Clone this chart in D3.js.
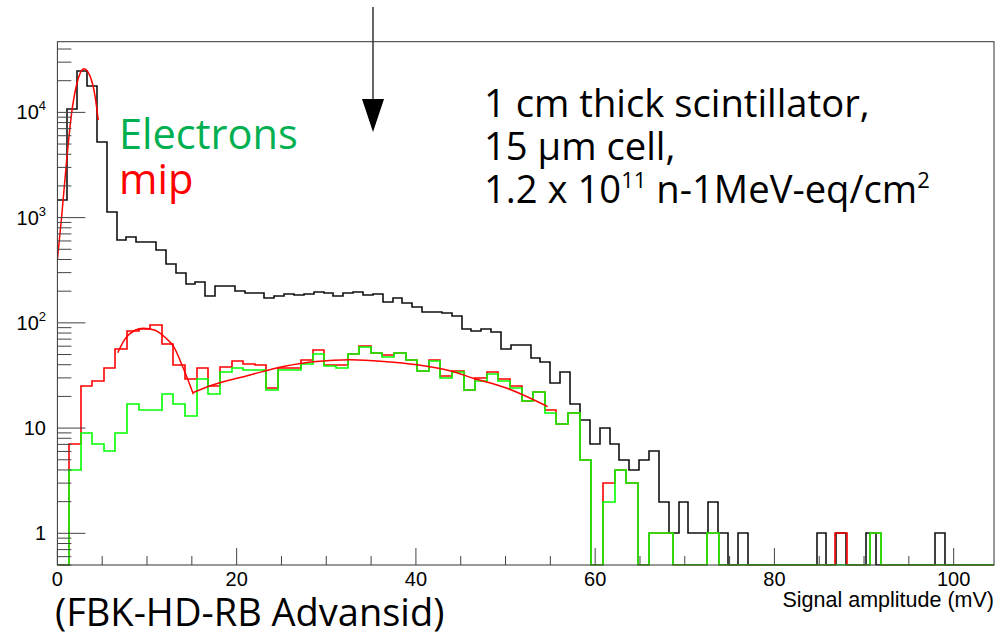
<!DOCTYPE html>
<html><head><meta charset="utf-8">
<script src="https://cdn.jsdelivr.net/npm/d3@7"></script>
<style>html,body{margin:0;padding:0;background:#fff;}svg{display:block;}</style>
</head><body>
<svg id="c" width="1004" height="637"></svg>
<script>
// ---- data ----
const blackBinWidth = 1.1;   // mV
const colorBinWidth = 1.295; // mV
const blackCounts = [1480,10800,24600,18000,5200,1140,618,655,590,590,
  496,365,298,236,245,178,222,222,202,192,
  192,171,180,190,182,190,198,191,181,191,
  198,183,187,158,172,154,141,128,127,124,
  117,87,84,87,81,56,61,61,46,42,
  27,34,17,12,7,10,7,5,4,5,
  6,2,1,2,1,1,2,1,0,1,
  0,0,0,0,0,0,0,1,0,1,
  0,0,1,0,0,0,0,0,0,1,
  0,0,0,0,0];
const redCounts = [0,7,25,28,37,56,84,87,95,63,
  40,29,37,25,38,43,41,40,24,37,
  37,44,55,40,40,51,60,52,49,52,
  44,35,44,31,35,23,30,34,29,25,
  18,22,15,11,14,5,0,3,4,3,
  0,1,1,0,0,0,1,0,0,0,
  0,0,0,0,0,0,0,1,0,0,
  1,0,0,0,0,0,0,0,0,0,0];
const greenCounts = [0,4,9,7,6,9,17,15,15,21,
  17,13,29,21,34,37,36,36,23,36,
  36,41,51,39,37,51,59,52,47,52,
  44,35,43,30,34,23,28,33,28,24,
  18,22,14,11,14,5,0,2,4,3,
  0,1,1,0,0,0,1,0,0,0,
  0,0,0,0,0,0,0,0,0,0,
  1,0,0,0,0,0,0,0,0,0,0];
const fitPeak = [[0,398],[0.48,1030],[1.04,3560],[1.59,9910],[2.15,18400],[2.97,26000],[3.64,22100],[4.20,14300],[4.56,8430]];
const fitMip = [[6.73,52],[7.54,70],[8.66,85],[9.59,89],[10.89,85],[12.0,73],[12.94,60],[14.05,37],[15.17,21]];
const fitBroad = [[15.17,21.8],[17.4,25.8],[21.5,32],[25.2,38.5],[28.9,43],[32.7,44.5],[36.4,43],[40.1,40],[43.8,35],[46.4,29.8],[50.1,24],[54.7,16]];
const xTickValues = [0,20,40,60,80,100];
const yTickLabels = [[1,"1",""],[10,"10",""],[100,"10","2"],[1000,"10","3"],[10000,"10","4"]];
const xDomain = [0, 104.5];
const yDomain = [0.5, 46950];

// ---- drawing ----
const svg = d3.select("#c");
const L = 57.4, R = 994, T = 41.7, B = 565;
const x = d3.scaleLinear().domain(xDomain).range([L, R]);
const y = d3.scaleLog().domain(yDomain).range([B, T]);

svg.append("rect").attr("width",1004).attr("height",637).attr("fill","#fff");
svg.append("clipPath").attr("id","clip").append("rect")
  .attr("x",L).attr("y",T-1).attr("width",R-L).attr("height",B-T+1.5);

function histPoints(counts, w){
  const pts = counts.map((v,i)=>[i*w, Math.max(v, yDomain[0])]);
  pts.push([counts.length*w, Math.max(counts[counts.length-1], yDomain[0])]);
  return pts.filter(p=>p[0] <= xDomain[1] + w);
}
const stepLine = d3.line().x(d=>Math.round(x(d[0]))).y(d=>Math.round(y(d[1]))).curve(d3.curveStepAfter);
const smoothLine = d3.line().x(d=>x(d[0])).y(d=>y(d[1])).curve(d3.curveMonotoneX);

const g = svg.append("g").attr("clip-path","url(#clip)");
[[blackCounts, blackBinWidth, "#111"],[redCounts, colorBinWidth, "#ff0000"],[greenCounts, colorBinWidth, "#00ff00"]]
.forEach(([c,w,col])=>{
  g.append("path").attr("d", stepLine(histPoints(c, w)))
    .attr("fill","none").attr("stroke",col).attr("stroke-width",1.6)
    .attr("stroke-linejoin","miter");
});
[fitPeak, fitMip, fitBroad].forEach(f=>{
  g.append("path").attr("d", smoothLine(f)).attr("fill","none")
   .attr("stroke","#ff0000").attr("stroke-width",1.5);
});

// frame
svg.append("rect").attr("x",L).attr("y",T).attr("width",R-L).attr("height",B-T)
  .attr("fill","none").attr("stroke","#333").attr("stroke-width",1);

// y ticks
y.ticks().forEach(v=>{
  const lg = Math.log10(v);
  const major = Math.abs(lg-Math.round(lg))<1e-9;
  svg.append("line").attr("x1",L).attr("x2",L+(major?28:14))
    .attr("y1",y(v)).attr("y2",y(v)).attr("stroke","#444").attr("stroke-width",1);
});
// x ticks
x.ticks(20).forEach(v=>{
  const major = xTickValues.includes(v);
  svg.append("line").attr("x1",x(v)).attr("x2",x(v))
    .attr("y1",B).attr("y2",B-(major?17:9)).attr("stroke","#444").attr("stroke-width",1);
});

const axFont = "'Liberation Sans', Arial, Helvetica, sans-serif";
xTickValues.forEach(v=>{
  svg.append("text").attr("x",x(v)).attr("y",586).attr("text-anchor","middle")
    .attr("font-family",axFont).attr("font-size",20).attr("fill","#000").text(v);
});
yTickLabels.forEach(([v,base,sup])=>{
  const t = svg.append("text").attr("x",46).attr("y",y(v)+7).attr("text-anchor","end")
    .attr("font-family",axFont).attr("font-size",20).attr("fill","#000");
  t.append("tspan").text(base);
  if(sup) t.append("tspan").attr("dy",-9).attr("font-size",13).text(sup);
});
svg.append("text").attr("x",994).attr("y",607).attr("text-anchor","end")
  .attr("font-family",axFont).attr("font-size",21.5).attr("fill","#000")
  .text("Signal amplitude (mV)");

// annotations
const tf = "'Open Sans', 'Noto Sans', sans-serif";
svg.append("text").attr("x",119).attr("y",149).attr("font-family",tf).attr("font-size",41.5)
  .attr("fill","#00b050").text("Electrons");
svg.append("text").attr("x",119).attr("y",194).attr("font-family",tf).attr("font-size",41.5)
  .attr("fill","#ff0000").text("mip");
svg.append("text").attr("x",484).attr("y",117).attr("font-family",tf).attr("font-size",38.2)
  .attr("fill","#000").text("1 cm thick scintillator,");
svg.append("text").attr("x",484).attr("y",160).attr("font-family",tf).attr("font-size",38.2)
  .attr("fill","#000").text("15 μm cell,");
const t3 = svg.append("text").attr("x",484).attr("y",203).attr("font-family",tf).attr("font-size",38.2).attr("fill","#000");
t3.append("tspan").text("1.2 x 10");
t3.append("tspan").attr("dy",-15).attr("font-size",22).text("11");
t3.append("tspan").attr("dy",15).text(" n-1MeV-eq/cm");
t3.append("tspan").attr("dy",-15).attr("font-size",22).text("2");
svg.append("text").attr("x",55).attr("y",626).attr("font-family",tf).attr("font-size",38)
  .attr("fill","#000").text("(FBK-HD-RB Advansid)");

// arrow
svg.append("line").attr("x1",373).attr("x2",373).attr("y1",7).attr("y2",101)
  .attr("stroke","#333").attr("stroke-width",1.5);
svg.append("path").attr("d","M362,99 L384,99 L373,132 Z").attr("fill","#000");
</script>
</body></html>
